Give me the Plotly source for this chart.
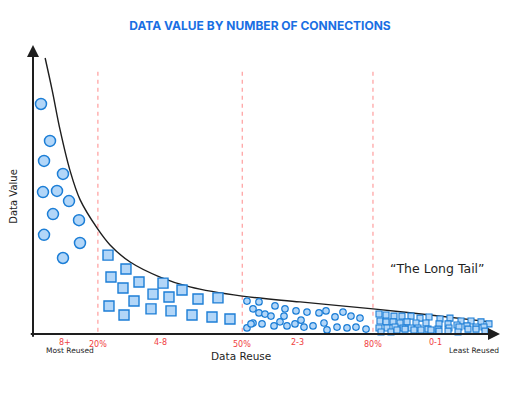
import plotly.graph_objects as go

# ---- data (x: position along reuse axis 0-100, y: data value 0-100) ----
curve_x = [2.6, 4.1, 5.8, 7.9, 10.1, 13.7, 16.5, 20.8, 27.2, 33.6, 44.8, 57.2, 72.8, 85.0, 97.9]
curve_y = [95.5, 84.4, 70.6, 56.7, 46.4, 36.7, 30.8, 24.9, 19.7, 16.3, 13.1, 11.1, 8.7, 6.6, 4.2]

g1_x = [1.71, 3.64, 2.36, 6.42, 2.14, 5.14, 7.71, 4.28, 9.85, 2.36, 10.06, 6.42]
g1_y = [79.6, 66.8, 59.9, 55.4, 49.1, 49.5, 46.0, 41.5, 39.4, 34.3, 31.5, 26.3]

g2_x = [16.06, 19.91, 16.70, 19.27, 22.70, 27.84, 25.70, 29.12, 31.91, 21.63,
        16.27, 19.49, 25.27, 29.55, 35.33, 39.61, 34.05, 38.33, 42.18]
g2_y = [27.3, 22.5, 19.7, 15.9, 18.0, 17.6, 13.8, 12.8, 15.2, 11.4,
        9.7, 6.6, 8.7, 8.0, 12.1, 12.5, 6.6, 5.9, 5.2]

g3_x = [45.82, 48.39, 47.11, 48.39, 49.68, 50.96, 51.82, 53.96, 53.75, 56.32, 58.67,
        61.24, 62.74, 64.67, 66.38, 68.09, 70.02, 47.11, 45.82, 46.68, 49.04, 51.61,
        52.89, 54.39, 56.10, 57.39, 58.03, 59.96, 62.31, 62.96, 65.10, 67.24, 69.16, 71.31]
g3_y = [11.4, 11.1, 8.7, 7.3, 6.9, 6.2, 9.7, 8.7, 6.2, 8.0, 7.6,
        7.3, 8.0, 5.9, 7.6, 6.2, 5.5, 3.8, 2.1, 3.5, 3.5, 2.8,
        4.2, 2.8, 3.5, 4.8, 2.4, 2.8, 3.8, 1.4, 2.4, 2.1, 2.4, 1.7]

g4_x = [74.09, 75.59, 77.30, 79.01, 80.94, 82.87, 84.80, 87.15, 89.29, 91.65, 93.79, 95.93, 97.64,
        74.30, 75.59, 77.09, 78.59, 80.09, 82.01, 84.15, 86.94, 88.87, 90.79, 92.93, 94.86, 96.57,
        74.09, 75.80, 77.52, 79.23, 80.94, 82.44, 84.58, 86.72, 89.08, 91.22,
        74.52, 76.66, 77.94, 79.66, 81.58, 83.08, 85.22, 86.94, 88.87, 91.01, 93.15, 94.86, 96.79]
g4_y = [6.9, 6.6, 6.2, 6.2, 6.2, 5.5, 5.9, 5.2, 5.5, 4.5, 4.5, 4.2, 3.5,
        4.5, 4.2, 4.2, 3.8, 4.2, 3.8, 3.8, 3.5, 3.5, 3.1, 2.8, 2.4, 2.4,
        2.1, 2.1, 2.4, 2.1, 2.1, 2.1, 1.7, 1.7, 2.1, 2.4,
        0.7, 0.7, 1.4, 1.7, 1.4, 1.4, 1.4, 1.0, 1.0, 0.7, 1.7, 1.7, 1.0]

split_x = [13.9, 44.8, 72.8]
split_labels = ["20%", "50%", "80%"]
group_label_x = [6.9, 27.2, 56.7, 86.1]
group_labels = ["8+", "4-8", "2-3", "0-1"]

title = "DATA VALUE BY NUMBER OF CONNECTIONS"

X_RANGE = [0, 100]
Y_RANGE = [0, 100]

# ---- styles ----
BLUE_LINE = "#1c7ed6"
BLUE_FILL = "#b2d6f8"
RED = "#f03e3e"
HAND = "DejaVu Sans"

fig = go.Figure()

# dashed split lines
for sx in split_x:
    fig.add_trace(go.Scatter(x=[sx, sx], y=[-2, 91.7], mode="lines", cliponaxis=False,
                             line=dict(color="#ff8a8a", width=1, dash="4px,4px"),
                             hoverinfo="skip", showlegend=False))

# long tail curve
fig.add_trace(go.Scatter(x=curve_x, y=curve_y, mode="lines",
                         line=dict(color="#1e1e1e", width=1.4, shape="spline", smoothing=1.0),
                         showlegend=False))

def markers(xs, ys, symbol, size, lw):
    fig.add_trace(go.Scatter(x=xs, y=ys, mode="markers", showlegend=False, cliponaxis=False,
                             marker=dict(symbol=symbol, size=size, color=BLUE_FILL,
                                         line=dict(color=BLUE_LINE, width=lw))))

markers(g1_x, g1_y, "circle", 11, 1.5)
markers(g2_x, g2_y, "square", 10, 1.4)
markers(g3_x, g3_y, "circle", 6.5, 1.2)
markers(g4_x, g4_y, "square", 6, 1.1)

def px(v):  # data x -> paper fraction
    return (v - X_RANGE[0]) / (X_RANGE[1] - X_RANGE[0])

def py(v):  # data y -> paper fraction
    return (v - Y_RANGE[0]) / (Y_RANGE[1] - Y_RANGE[0])

ann = []
# axes arrows
ann.append(dict(x=0, y=100, ax=0, ay=-1.5, xref="x", yref="y", axref="x", ayref="y",
                showarrow=True, arrowhead=2, arrowsize=1.2, arrowwidth=2, arrowcolor="#1e1e1e", text=""))
ann.append(dict(x=100, y=0, ax=-0.8, ay=0, xref="x", yref="y", axref="x", ayref="y",
                showarrow=True, arrowhead=2, arrowsize=1.2, arrowwidth=2, arrowcolor="#1e1e1e", text=""))

def label(x, y, text, size, color, angle=0):
    ann.append(dict(x=px(x), y=py(y), xref="paper", yref="paper", text=text, showarrow=False,
                    xanchor="center", yanchor="middle", textangle=angle,
                    font=dict(family=HAND, size=size, color=color)))

for sx, lab in zip(split_x, split_labels):
    label(sx, -3.8, lab, 8, RED)
for gx, lab in zip(group_label_x, group_labels):
    label(gx, -2.8, lab, 8, RED)

label(8.0, -5.6, "Most Reused", 7.5, "#1e1e1e")
label(94.5, -5.6, "Least Reused", 7.5, "#1e1e1e")
label(44.5, -7.6, "Data Reuse", 10.5, "#1e1e1e")
label(-4.1, 47.8, "Data Value", 10, "#1e1e1e", angle=-90)
label(86.6, 22.5, "\u201cThe Long Tail\u201d", 12.5, "#1e1e1e")

# the page body has an 8px margin, so the figure is drawn 8px smaller than the window
fig.update_layout(
    width=504, height=386,
    margin=dict(l=25, r=12, t=37, b=60),
    paper_bgcolor="white", plot_bgcolor="white",
    title=dict(text=title, x=0.5, xanchor="center", y=0.955, yanchor="middle",
               font=dict(family="Inter", size=12, color="#1a6fe3", weight=700)),
    xaxis=dict(range=X_RANGE, showgrid=False, zeroline=False, showline=False,
               showticklabels=False, ticks=""),
    yaxis=dict(range=Y_RANGE, showgrid=False, zeroline=False, showline=False,
               showticklabels=False, ticks=""),
    annotations=ann,
)

fig.write_html("out.html")
